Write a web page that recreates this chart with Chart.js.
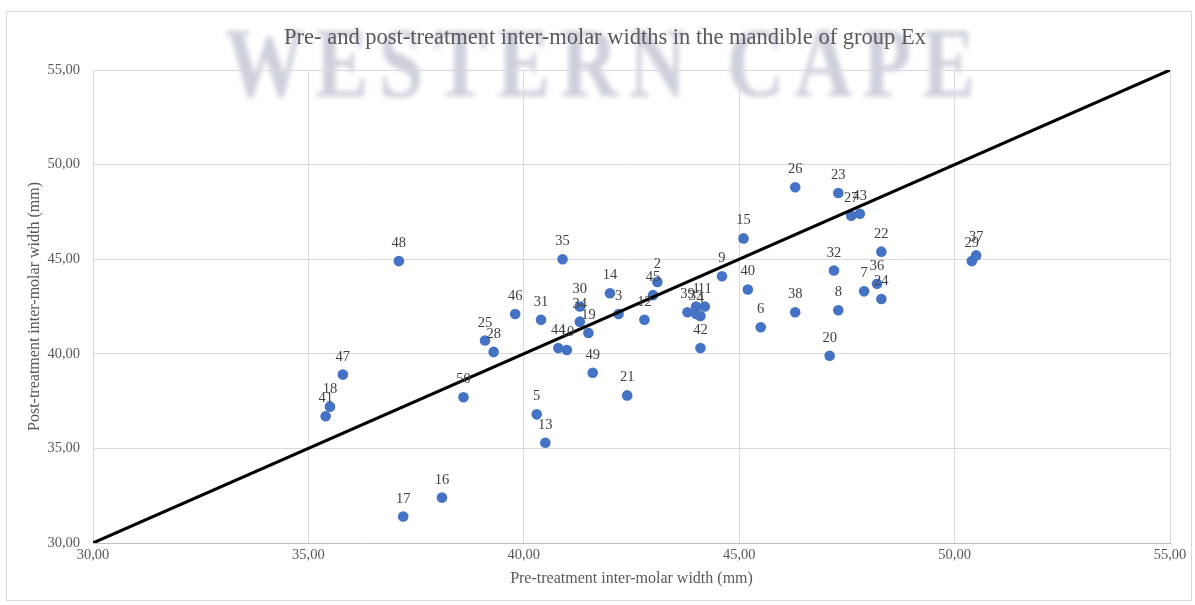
<!DOCTYPE html>
<html>
<head>
<meta charset="utf-8">
<title>Inter-molar widths, group Ex</title>
<script src="https://cdn.jsdelivr.net/npm/chart.js@4.4.1/dist/chart.umd.min.js"></script>
<style>
  html, body { margin: 0; padding: 0; background: #ffffff; }
  #wrap { width: 1195px; height: 605px; position: relative; }
</style>
</head>
<body>
<div id="wrap"><canvas id="chart" width="1195" height="605"></canvas></div>
<script>
// Patient numbers shown as point labels
const patientIds = [
  1, 2, 3, 4, 5, 6, 7, 8, 9, 10,
  11, 12, 13, 14, 15, 16, 17, 18, 19, 20,
  21, 22, 23, 24, 25, 26, 27, 28, 29, 30,
  31, 32, 33, 34, 35, 36, 37, 38, 39, 40,
  41, 42, 43, 44, 45, 46, 47, 48, 49, 50
];

// Pre-treatment inter-molar width (mm), same order as patientIds
const preWidth = [
  44.0, 43.1, 42.2, 44.1, 40.3, 45.5, 47.9, 47.3, 44.6, 41.0,
  44.2, 42.8, 40.5, 42.0, 45.1, 38.1, 37.2, 35.5, 41.5, 47.1,
  42.4, 48.3, 47.3, 48.3, 39.1, 46.3, 47.6, 39.3, 50.4, 41.3,
  40.4, 47.2, 44.0, 41.3, 40.9, 48.2, 50.5, 46.3, 43.8, 45.2,
  35.4, 44.1, 47.8, 40.8, 43.0, 39.8, 35.8, 37.1, 41.6, 38.6
];

// Post-treatment inter-molar width (mm), same order as patientIds
const postWidth = [
  42.5, 43.8, 42.1, 42.0, 36.8, 41.4, 43.3, 42.3, 44.1, 40.2,
  42.5, 41.8, 35.3, 43.2, 46.1, 32.4, 31.4, 37.2, 41.1, 39.9,
  37.8, 45.4, 48.5, 42.9, 40.7, 48.8, 47.3, 40.1, 44.9, 42.5,
  41.8, 44.4, 42.1, 41.7, 45.0, 43.7, 45.2, 42.2, 42.2, 43.4,
  36.7, 40.3, 47.4, 40.3, 43.1, 42.1, 38.9, 44.9, 39.0, 37.7
];

// Line of no change (post = pre)
const identityX = [30, 55];
const identityY = [30, 55];

// Axis ticks
const tickValues = [30, 35, 40, 45, 50, 55];

const chartTitle = 'Pre- and post-treatment inter-molar widths in the mandible of group Ex';
const xTitle = 'Pre-treatment inter-molar width (mm)';
const yTitle = 'Post-treatment inter-molar width (mm)';
const watermarkText = 'WESTERN CAPE';

const SERIF = '"Liberation Serif", "Times New Roman", serif';

const scatterData = preWidth.map((x, i) => ({ x: x, y: postWidth[i], id: patientIds[i] }));
const lineData = identityX.map((x, i) => ({ x: x, y: identityY[i] }));

const fmt = v => Number(v).toFixed(2).replace('.', ',');

const decorPlugin = {
  id: 'decor',
  beforeDraw(chart) {
    const ctx = chart.ctx;
    ctx.save();
    ctx.setTransform(1, 0, 0, 1, 0, 0);
    ctx.fillStyle = '#ffffff';
    ctx.fillRect(0, 0, chart.width, chart.height);

    // faint blurred watermark lettering behind the title
    ctx.font = 'bold 100px ' + SERIF;
    ctx.textBaseline = 'alphabetic';
    ctx.textAlign = 'left';
    const letters = watermarkText.split('');
    const widths = letters.map(ch => ctx.measureText(ch).width);
    const natural = widths.reduce((a, b) => a + b, 0);
    const left = 225, right = 975, sx = 0.8;
    const gap = (right - left - natural * sx) / (letters.length - 1);
    ctx.filter = 'blur(2.4px)';
    ctx.fillStyle = 'rgba(145, 150, 175, 0.45)';
    let cx = left;
    letters.forEach((ch, i) => {
      ctx.save();
      ctx.translate(cx, 96);
      ctx.scale(sx, 1);
      ctx.fillText(ch, 0, 0);
      ctx.restore();
      cx += widths[i] * sx + gap;
    });
    ctx.restore();

    // outer frame
    ctx.save();
    ctx.strokeStyle = '#d9d9d9';
    ctx.lineWidth = 1;
    ctx.strokeRect(6.5, 11.5, 1185, 589);
    ctx.restore();
  },
  afterDraw(chart) {
    const ctx = chart.ctx;
    const area = chart.chartArea;
    ctx.save();
    ctx.fillStyle = '#595959';
    ctx.textAlign = 'center';
    ctx.textBaseline = 'alphabetic';

    ctx.font = '22.5px ' + SERIF;
    ctx.fillText(chartTitle, 605, 44);

    ctx.font = '16px ' + SERIF;
    ctx.fillText(xTitle, (area.left + area.right) / 2, 583);

    ctx.font = '16px ' + SERIF;
    ctx.translate(39, (area.top + area.bottom) / 2);
    ctx.rotate(-Math.PI / 2);
    ctx.fillText(yTitle, 0, 0);
    ctx.restore();
  }
};

const pointLabelPlugin = {
  id: 'pointLabels',
  afterDatasetsDraw(chart) {
    const ctx = chart.ctx;
    const meta = chart.getDatasetMeta(1);
    ctx.save();
    ctx.font = '14.5px ' + SERIF;
    ctx.fillStyle = '#404040';
    ctx.textAlign = 'center';
    ctx.textBaseline = 'alphabetic';
    meta.data.forEach((pt, i) => {
      ctx.fillText(String(scatterData[i].id), pt.x, pt.y - 14);
    });
    ctx.restore();
  }
};

new Chart(document.getElementById('chart'), {
  data: {
    datasets: [
      {
        type: 'line',
        data: lineData,
        borderColor: '#000000',
        borderWidth: 3,
        pointRadius: 0,
        fill: false,
        order: 0
      },
      {
        type: 'scatter',
        data: scatterData,
        backgroundColor: '#4472C4',
        borderWidth: 0,
        pointRadius: 5.3,
        pointHoverRadius: 5.3,
        order: 1
      }
    ]
  },
  options: {
    responsive: false,
    animation: false,
    events: [],
    layout: { padding: { top: 70, right: 25, left: 0, bottom: 0 } },
    plugins: {
      legend: { display: false },
      tooltip: { enabled: false },
      title: { display: false }
    },
    scales: {
      x: {
        type: 'linear',
        min: tickValues[0],
        max: tickValues[tickValues.length - 1],
        afterBuildTicks: s => { s.ticks = tickValues.map(v => ({ value: v })); },
        afterFit: s => { s.height = 62; },
        ticks: {
          padding: 3,
          color: '#595959',
          font: { family: SERIF, size: 14.5 },
          callback: v => fmt(v)
        },
        grid: { color: '#d9d9d9', drawTicks: false, lineWidth: 1 },
        border: { display: true, color: '#bfbfbf', width: 1 }
      },
      y: {
        type: 'linear',
        min: tickValues[0],
        max: tickValues[tickValues.length - 1],
        afterBuildTicks: s => { s.ticks = tickValues.map(v => ({ value: v })); },
        afterFit: s => { s.width = 93; },
        ticks: {
          padding: 13,
          color: '#595959',
          font: { family: SERIF, size: 14.5 },
          callback: v => fmt(v)
        },
        grid: { color: '#d9d9d9', drawTicks: false, lineWidth: 1 },
        border: { display: false }
      }
    }
  },
  plugins: [decorPlugin, pointLabelPlugin]
});
</script>
</body>
</html>
